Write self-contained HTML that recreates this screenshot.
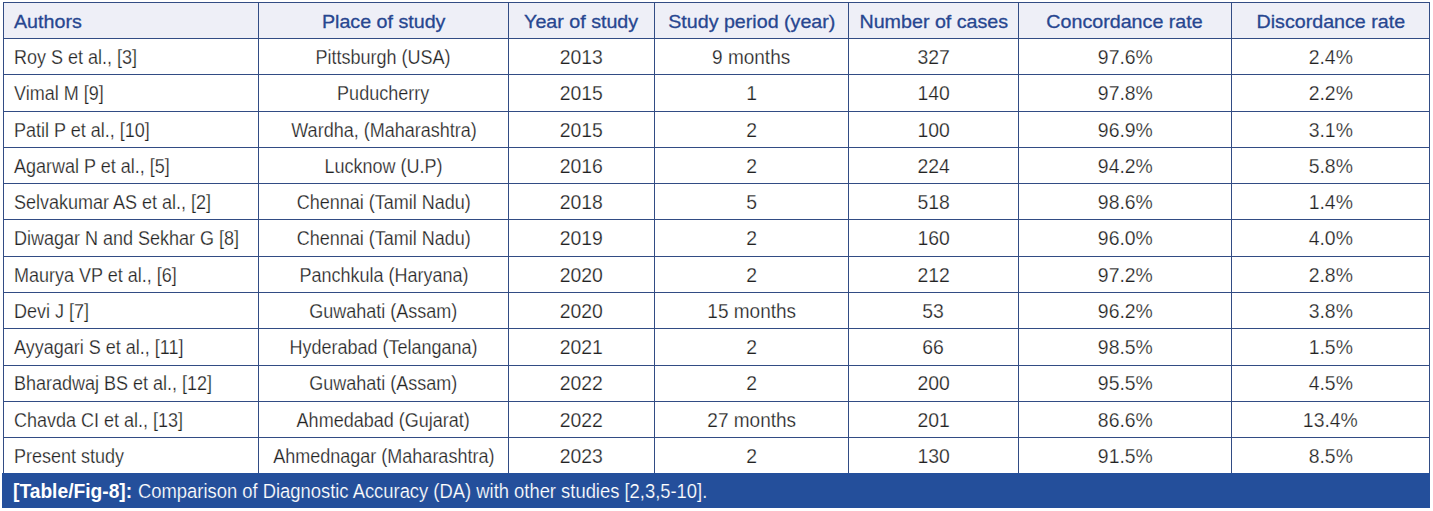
<!DOCTYPE html>
<html><head><meta charset="utf-8"><style>
html,body{margin:0;padding:0;background:#fff;}
body{width:1433px;height:511px;position:relative;overflow:hidden;font-family:"Liberation Sans",sans-serif;-webkit-font-smoothing:antialiased;}
.l{position:absolute;background:#324c84;}
.c{position:absolute;height:20px;line-height:20px;white-space:nowrap;font-size:20px;color:#222222;text-align:center;-webkit-text-stroke:0.25px #fff;paint-order:normal;}
.c span{display:inline-block;transform:scaleX(0.9);transform-origin:50% 50%;}
.c.left{text-align:left;}
.c.left span{transform-origin:0 50%;}
.c.h{color:#274690;font-size:19px;-webkit-text-stroke:0.3px #274690;}
.c.h span{transform:scaleX(1.035);}
</style></head><body>

<div style="position:absolute;left:3px;top:2px;width:1426px;height:36px;background:#eeeff7"></div>
<div class="l" style="left:3px;top:2px;width:1427px;height:1px"></div>
<div class="l" style="left:3px;top:38px;width:1427px;height:1px"></div>
<div class="l" style="left:3px;top:74px;width:1427px;height:1px"></div>
<div class="l" style="left:3px;top:111px;width:1427px;height:1px"></div>
<div class="l" style="left:3px;top:147px;width:1427px;height:1px"></div>
<div class="l" style="left:3px;top:183px;width:1427px;height:1px"></div>
<div class="l" style="left:3px;top:219px;width:1427px;height:1px"></div>
<div class="l" style="left:3px;top:256px;width:1427px;height:1px"></div>
<div class="l" style="left:3px;top:292px;width:1427px;height:1px"></div>
<div class="l" style="left:3px;top:328px;width:1427px;height:1px"></div>
<div class="l" style="left:3px;top:365px;width:1427px;height:1px"></div>
<div class="l" style="left:3px;top:401px;width:1427px;height:1px"></div>
<div class="l" style="left:3px;top:437px;width:1427px;height:1px"></div>
<div class="l" style="left:3px;top:473px;width:1427px;height:1px"></div>
<div class="l" style="left:3px;top:2px;width:1px;height:471px"></div>
<div class="l" style="left:258px;top:2px;width:1px;height:471px"></div>
<div class="l" style="left:508px;top:2px;width:1px;height:471px"></div>
<div class="l" style="left:654px;top:2px;width:1px;height:471px"></div>
<div class="l" style="left:848px;top:2px;width:1px;height:471px"></div>
<div class="l" style="left:1018px;top:2px;width:1px;height:471px"></div>
<div class="l" style="left:1231px;top:2px;width:1px;height:471px"></div>
<div class="l" style="left:1429px;top:2px;width:1px;height:471px"></div>
<div class="c left h" style="left:14px;top:12px;width:244px"><span>Authors</span></div>
<div class="c h" style="left:259px;top:12px;width:249px"><span>Place of study</span></div>
<div class="c h" style="left:509px;top:12px;width:145px"><span>Year of study</span></div>
<div class="c h" style="left:655px;top:12px;width:193px"><span>Study period (year)</span></div>
<div class="c h" style="left:849px;top:12px;width:169px"><span>Number of cases</span></div>
<div class="c h" style="left:1019px;top:12px;width:212px"><span>Concordance rate</span></div>
<div class="c h" style="left:1232px;top:12px;width:197px"><span>Discordance rate</span></div>
<div class="c left " style="left:14px;top:47px;width:244px"><span>Roy S et al., [3]</span></div>
<div class="c " style="left:259px;top:47px;width:249px"><span>Pittsburgh (USA)</span></div>
<div class="c " style="left:509px;top:47px;width:145px"><span style="transform:scaleX(0.97)">2013</span></div>
<div class="c " style="left:655px;top:47px;width:193px"><span style="transform:scaleX(0.95)">9 months</span></div>
<div class="c " style="left:849px;top:47px;width:169px"><span style="transform:scaleX(0.97)">327</span></div>
<div class="c " style="left:1019px;top:47px;width:212px"><span style="transform:scaleX(0.97)">97.6%</span></div>
<div class="c " style="left:1232px;top:47px;width:197px"><span style="transform:scaleX(0.97)">2.4%</span></div>
<div class="c left " style="left:14px;top:83px;width:244px"><span>Vimal M [9]</span></div>
<div class="c " style="left:259px;top:83px;width:249px"><span>Puducherry</span></div>
<div class="c " style="left:509px;top:83px;width:145px"><span style="transform:scaleX(0.97)">2015</span></div>
<div class="c " style="left:655px;top:83px;width:193px"><span style="transform:scaleX(0.97)">1</span></div>
<div class="c " style="left:849px;top:83px;width:169px"><span style="transform:scaleX(0.97)">140</span></div>
<div class="c " style="left:1019px;top:83px;width:212px"><span style="transform:scaleX(0.97)">97.8%</span></div>
<div class="c " style="left:1232px;top:83px;width:197px"><span style="transform:scaleX(0.97)">2.2%</span></div>
<div class="c left " style="left:14px;top:120px;width:244px"><span>Patil P et al., [10]</span></div>
<div class="c " style="left:259px;top:120px;width:249px"><span>Wardha, (Maharashtra)</span></div>
<div class="c " style="left:509px;top:120px;width:145px"><span style="transform:scaleX(0.97)">2015</span></div>
<div class="c " style="left:655px;top:120px;width:193px"><span style="transform:scaleX(0.97)">2</span></div>
<div class="c " style="left:849px;top:120px;width:169px"><span style="transform:scaleX(0.97)">100</span></div>
<div class="c " style="left:1019px;top:120px;width:212px"><span style="transform:scaleX(0.97)">96.9%</span></div>
<div class="c " style="left:1232px;top:120px;width:197px"><span style="transform:scaleX(0.97)">3.1%</span></div>
<div class="c left " style="left:14px;top:156px;width:244px"><span>Agarwal P et al., [5]</span></div>
<div class="c " style="left:259px;top:156px;width:249px"><span>Lucknow (U.P)</span></div>
<div class="c " style="left:509px;top:156px;width:145px"><span style="transform:scaleX(0.97)">2016</span></div>
<div class="c " style="left:655px;top:156px;width:193px"><span style="transform:scaleX(0.97)">2</span></div>
<div class="c " style="left:849px;top:156px;width:169px"><span style="transform:scaleX(0.97)">224</span></div>
<div class="c " style="left:1019px;top:156px;width:212px"><span style="transform:scaleX(0.97)">94.2%</span></div>
<div class="c " style="left:1232px;top:156px;width:197px"><span style="transform:scaleX(0.97)">5.8%</span></div>
<div class="c left " style="left:14px;top:192px;width:244px"><span>Selvakumar AS et al., [2]</span></div>
<div class="c " style="left:259px;top:192px;width:249px"><span>Chennai (Tamil Nadu)</span></div>
<div class="c " style="left:509px;top:192px;width:145px"><span style="transform:scaleX(0.97)">2018</span></div>
<div class="c " style="left:655px;top:192px;width:193px"><span style="transform:scaleX(0.97)">5</span></div>
<div class="c " style="left:849px;top:192px;width:169px"><span style="transform:scaleX(0.97)">518</span></div>
<div class="c " style="left:1019px;top:192px;width:212px"><span style="transform:scaleX(0.97)">98.6%</span></div>
<div class="c " style="left:1232px;top:192px;width:197px"><span style="transform:scaleX(0.97)">1.4%</span></div>
<div class="c left " style="left:14px;top:228px;width:244px"><span>Diwagar N and Sekhar G [8]</span></div>
<div class="c " style="left:259px;top:228px;width:249px"><span>Chennai (Tamil Nadu)</span></div>
<div class="c " style="left:509px;top:228px;width:145px"><span style="transform:scaleX(0.97)">2019</span></div>
<div class="c " style="left:655px;top:228px;width:193px"><span style="transform:scaleX(0.97)">2</span></div>
<div class="c " style="left:849px;top:228px;width:169px"><span style="transform:scaleX(0.97)">160</span></div>
<div class="c " style="left:1019px;top:228px;width:212px"><span style="transform:scaleX(0.97)">96.0%</span></div>
<div class="c " style="left:1232px;top:228px;width:197px"><span style="transform:scaleX(0.97)">4.0%</span></div>
<div class="c left " style="left:14px;top:265px;width:244px"><span>Maurya VP et al., [6]</span></div>
<div class="c " style="left:259px;top:265px;width:249px"><span>Panchkula (Haryana)</span></div>
<div class="c " style="left:509px;top:265px;width:145px"><span style="transform:scaleX(0.97)">2020</span></div>
<div class="c " style="left:655px;top:265px;width:193px"><span style="transform:scaleX(0.97)">2</span></div>
<div class="c " style="left:849px;top:265px;width:169px"><span style="transform:scaleX(0.97)">212</span></div>
<div class="c " style="left:1019px;top:265px;width:212px"><span style="transform:scaleX(0.97)">97.2%</span></div>
<div class="c " style="left:1232px;top:265px;width:197px"><span style="transform:scaleX(0.97)">2.8%</span></div>
<div class="c left " style="left:14px;top:301px;width:244px"><span>Devi J [7]</span></div>
<div class="c " style="left:259px;top:301px;width:249px"><span>Guwahati (Assam)</span></div>
<div class="c " style="left:509px;top:301px;width:145px"><span style="transform:scaleX(0.97)">2020</span></div>
<div class="c " style="left:655px;top:301px;width:193px"><span style="transform:scaleX(0.95)">15 months</span></div>
<div class="c " style="left:849px;top:301px;width:169px"><span style="transform:scaleX(0.97)">53</span></div>
<div class="c " style="left:1019px;top:301px;width:212px"><span style="transform:scaleX(0.97)">96.2%</span></div>
<div class="c " style="left:1232px;top:301px;width:197px"><span style="transform:scaleX(0.97)">3.8%</span></div>
<div class="c left " style="left:14px;top:337px;width:244px"><span>Ayyagari S et al., [11]</span></div>
<div class="c " style="left:259px;top:337px;width:249px"><span>Hyderabad (Telangana)</span></div>
<div class="c " style="left:509px;top:337px;width:145px"><span style="transform:scaleX(0.97)">2021</span></div>
<div class="c " style="left:655px;top:337px;width:193px"><span style="transform:scaleX(0.97)">2</span></div>
<div class="c " style="left:849px;top:337px;width:169px"><span style="transform:scaleX(0.97)">66</span></div>
<div class="c " style="left:1019px;top:337px;width:212px"><span style="transform:scaleX(0.97)">98.5%</span></div>
<div class="c " style="left:1232px;top:337px;width:197px"><span style="transform:scaleX(0.97)">1.5%</span></div>
<div class="c left " style="left:14px;top:373px;width:244px"><span>Bharadwaj BS et al., [12]</span></div>
<div class="c " style="left:259px;top:373px;width:249px"><span>Guwahati (Assam)</span></div>
<div class="c " style="left:509px;top:373px;width:145px"><span style="transform:scaleX(0.97)">2022</span></div>
<div class="c " style="left:655px;top:373px;width:193px"><span style="transform:scaleX(0.97)">2</span></div>
<div class="c " style="left:849px;top:373px;width:169px"><span style="transform:scaleX(0.97)">200</span></div>
<div class="c " style="left:1019px;top:373px;width:212px"><span style="transform:scaleX(0.97)">95.5%</span></div>
<div class="c " style="left:1232px;top:373px;width:197px"><span style="transform:scaleX(0.97)">4.5%</span></div>
<div class="c left " style="left:14px;top:410px;width:244px"><span>Chavda CI et al., [13]</span></div>
<div class="c " style="left:259px;top:410px;width:249px"><span>Ahmedabad (Gujarat)</span></div>
<div class="c " style="left:509px;top:410px;width:145px"><span style="transform:scaleX(0.97)">2022</span></div>
<div class="c " style="left:655px;top:410px;width:193px"><span style="transform:scaleX(0.95)">27 months</span></div>
<div class="c " style="left:849px;top:410px;width:169px"><span style="transform:scaleX(0.97)">201</span></div>
<div class="c " style="left:1019px;top:410px;width:212px"><span style="transform:scaleX(0.97)">86.6%</span></div>
<div class="c " style="left:1232px;top:410px;width:197px"><span style="transform:scaleX(0.97)">13.4%</span></div>
<div class="c left " style="left:14px;top:446px;width:244px"><span>Present study</span></div>
<div class="c " style="left:259px;top:446px;width:249px"><span>Ahmednagar (Maharashtra)</span></div>
<div class="c " style="left:509px;top:446px;width:145px"><span style="transform:scaleX(0.97)">2023</span></div>
<div class="c " style="left:655px;top:446px;width:193px"><span style="transform:scaleX(0.97)">2</span></div>
<div class="c " style="left:849px;top:446px;width:169px"><span style="transform:scaleX(0.97)">130</span></div>
<div class="c " style="left:1019px;top:446px;width:212px"><span style="transform:scaleX(0.97)">91.5%</span></div>
<div class="c " style="left:1232px;top:446px;width:197px"><span style="transform:scaleX(0.97)">8.5%</span></div>
<div style="position:absolute;left:2px;top:473px;width:1428px;height:35px;background:#244f9b"></div>
<div style="position:absolute;left:13px;top:481px;height:20px;line-height:20px;color:#fff;font-size:19.5px;white-space:nowrap"><b style="display:inline-block;transform:scaleX(0.985);transform-origin:0 50%;width:116px">[Table/Fig-8]:</b><span style="display:inline-block;width:9px"></span><span style="display:inline-block;transform:scaleX(0.943);transform-origin:0 50%;-webkit-text-stroke:0.2px #244f9b">Comparison of Diagnostic Accuracy (DA) with other studies [2,3,5-10].</span></div>
</body></html>
